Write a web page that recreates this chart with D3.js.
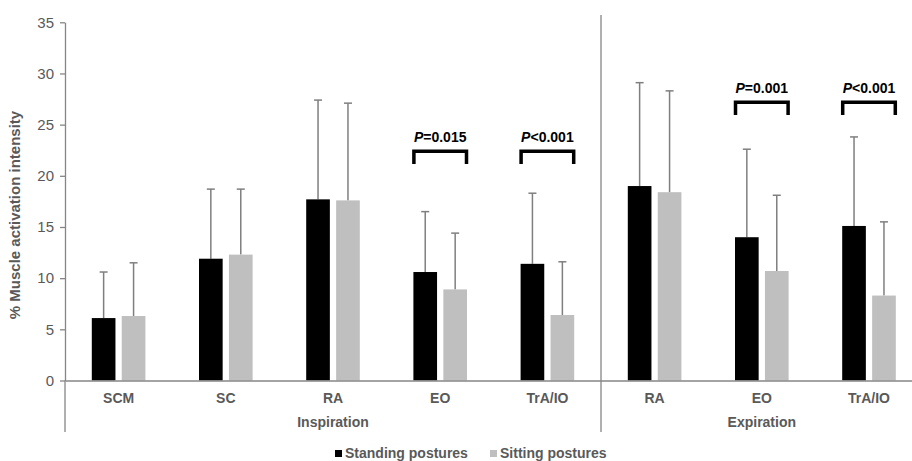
<!DOCTYPE html>
<html lang="en">
<head>
<meta charset="UTF-8">
<title>Muscle activation intensity</title>
<script src="https://d3js.org/d3.v7.min.js"></script>
<style>
  body { margin: 0; background: #fff; }
  text { font-family: "Liberation Sans", Arial, sans-serif; }
</style>
</head>
<body>
<div id="chart"></div>
<script>
// Data
const muscles = ["SCM", "SC", "RA", "EO", "TrA/IO", "RA", "EO", "TrA/IO"];
const phaseOf = [0, 0, 0, 0, 0, 1, 1, 1];
const phaseNames = ["Inspiration", "Expiration"];
const seriesNames = ["Standing postures", "Sitting postures"];
const standingMean = [6.1, 11.9, 17.7, 10.6, 11.4, 19.0, 14.0, 15.1];
const standingSD = [4.5, 6.8, 9.7, 5.9, 6.9, 10.1, 8.6, 8.7];
const sittingMean = [6.3, 12.3, 17.6, 8.9, 6.4, 18.4, 10.7, 8.3];
const sittingSD = [5.2, 6.4, 9.5, 5.5, 5.2, 9.9, 7.4, 7.2];
const yTicks = [0, 5, 10, 15, 20, 25, 30, 35];

// significance brackets
const sigIndex = [3, 4, 6, 7];
const sigOp = ["=0.015", "<0.001", "=0.001", "<0.001"];
const sigLevel = [22.4, 22.4, 27.2, 27.2];

const W = 912, H = 461;
const left = 65, y0 = 380.5, yTop = 22.3, axisBottomEnd = 432;
const axisColor = "#868686", textColor = "#595959";

const svg = d3.select("#chart").append("svg")
  .attr("width", W).attr("height", H);

const y = d3.scaleLinear().domain([0, 35]).range([y0, yTop]);
const x = d3.scaleBand().domain(d3.range(muscles.length))
  .range([left, left + 8 * 107.2]).padding(0);
const x1 = d3.scaleBand().domain([0, 1])
  .range([26.8, 80.4]).paddingInner(0.21);

const colors = ["#000000", "#bfbfbf"];
const means = [standingMean, sittingMean];
const sds = [standingSD, sittingSD];

// y axis
const yAxis = svg.append("g")
  .attr("transform", `translate(${left},0)`)
  .call(d3.axisLeft(y).tickValues(yTicks).tickSize(5).tickSizeOuter(0).tickPadding(6));
yAxis.selectAll("path, line").attr("stroke", axisColor).attr("stroke-width", 1.3);
yAxis.selectAll("text").attr("fill", textColor).attr("font-size", 15)
  .style("font-family", "Liberation Sans, Arial, sans-serif");

// extension of the axis below zero (category separators)
svg.append("line")
  .attr("x1", left).attr("x2", left).attr("y1", y(0)).attr("y2", axisBottomEnd)
  .attr("stroke", axisColor).attr("stroke-width", 1.3);
const splitX = x(5);
svg.append("line")
  .attr("x1", splitX).attr("x2", splitX).attr("y1", 15).attr("y2", axisBottomEnd)
  .attr("stroke", axisColor).attr("stroke-width", 1.3);

// bars
const data = [];
muscles.forEach((m, i) => {
  [0, 1].forEach(s => data.push({ i, s, v: means[s][i], sd: sds[s][i] }));
});

// error bars (upper only)
const eb = svg.append("g");
data.forEach(d => {
  const cx = x(d.i) + x1(d.s) + x1.bandwidth() / 2;
  eb.append("line")
    .attr("x1", cx).attr("x2", cx)
    .attr("y1", y(d.v)).attr("y2", y(d.v + d.sd))
    .attr("stroke", "#7f7f7f").attr("stroke-width", 1.5);
  eb.append("line")
    .attr("x1", cx - 4).attr("x2", cx + 4)
    .attr("y1", y(d.v + d.sd)).attr("y2", y(d.v + d.sd))
    .attr("stroke", "#7f7f7f").attr("stroke-width", 1.5);
});

svg.append("g").selectAll("rect")
  .data(data)
  .join("rect")
  .attr("x", d => x(d.i) + x1(d.s))
  .attr("width", x1.bandwidth())
  .attr("y", d => y(d.v))
  .attr("height", d => y(0) - y(d.v))
  .attr("fill", d => colors[d.s]);

// x axis
const xAxis = svg.append("g")
  .attr("transform", `translate(0,${y0})`)
  .call(d3.axisBottom(x).tickSize(0).tickPadding(13).tickFormat(i => muscles[i]));
xAxis.select(".domain").attr("stroke", axisColor).attr("stroke-width", 1.3);
xAxis.selectAll("text").attr("fill", textColor).attr("font-size", 14)
  .attr("font-weight", "bold")
  .style("font-family", "Liberation Sans, Arial, sans-serif");

// phase labels
phaseNames.forEach((p, k) => {
  const idx = d3.range(muscles.length).filter(i => phaseOf[i] === k);
  const x0 = x(idx[0]), xEnd = x(idx[idx.length - 1]) + x.bandwidth();
  svg.append("text")
    .attr("x", (x0 + xEnd) / 2).attr("y", 427)
    .attr("text-anchor", "middle")
    .attr("font-size", 14).attr("font-weight", "bold")
    .attr("fill", textColor)
    .text(p);
});

// y title
svg.append("text")
  .attr("transform", "translate(20,215) rotate(-90)")
  .attr("text-anchor", "middle")
  .attr("font-size", 15).attr("font-weight", "bold")
  .attr("fill", textColor)
  .text("% Muscle activation intensity");

// significance brackets
sigIndex.forEach((i, k) => {
  const xl = x(i) + x1(0) + 0.5;
  const xr = x(i) + x1(1) + x1.bandwidth() - 0.5;
  const top = y(sigLevel[k]);
  const leg = y(sigLevel[k] - 1.25);
  svg.append("path")
    .attr("d", `M${xl},${leg}L${xl},${top}L${xr},${top}L${xr},${leg}`)
    .attr("fill", "none").attr("stroke", "#000")
    .attr("stroke-width", 3.5).attr("stroke-linejoin", "miter");
  const t = svg.append("text")
    .attr("x", (xl + xr) / 2).attr("y", top - 9)
    .attr("text-anchor", "middle")
    .attr("font-size", 14).attr("font-weight", "bold")
    .attr("fill", "#000");
  t.append("tspan").attr("font-style", "italic").text("P");
  t.append("tspan").text(sigOp[k]);
});

// legend
const legendX = [335, 490];
seriesNames.forEach((n, s) => {
  svg.append("rect")
    .attr("x", legendX[s]).attr("y", 450)
    .attr("width", 7).attr("height", 7)
    .attr("fill", colors[s]);
  svg.append("text")
    .attr("x", legendX[s] + 10).attr("y", 458)
    .attr("font-size", 14).attr("font-weight", "bold")
    .attr("fill", textColor)
    .text(n);
});
</script>
</body>
</html>
